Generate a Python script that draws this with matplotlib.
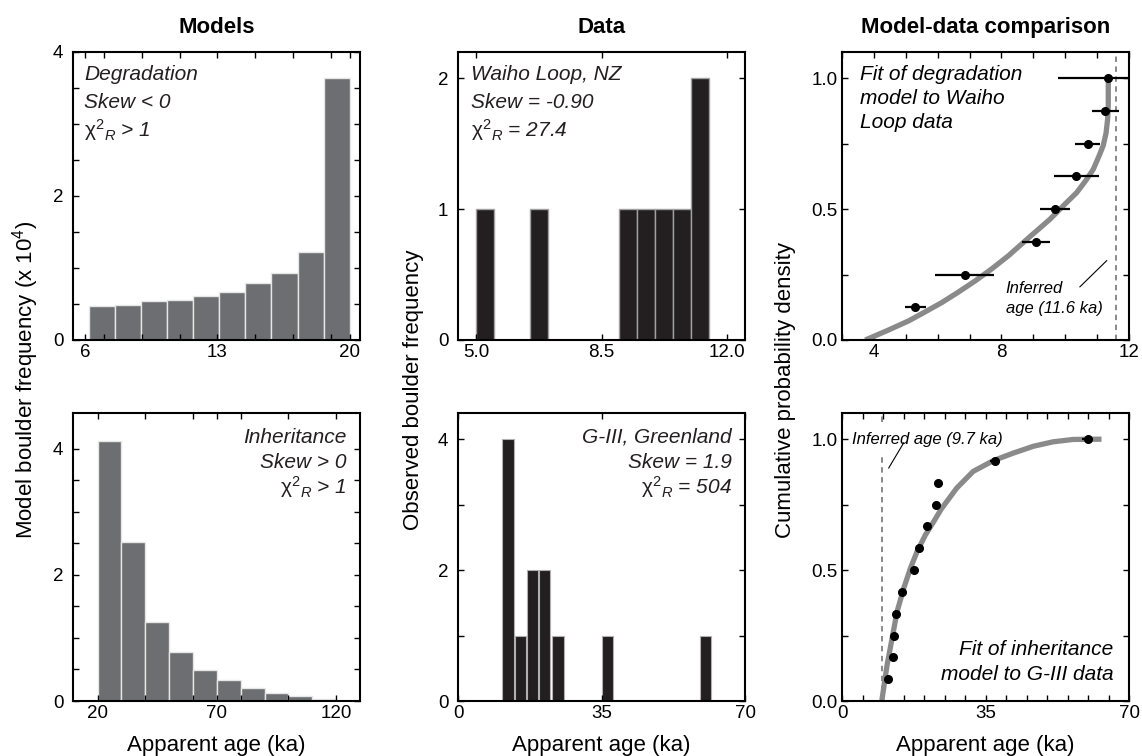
"""
Boulder age distributions: model histograms, observed histograms
and model-data CDF fits (Waiho Loop, NZ and G-III, Greenland).
"""

import numpy as np
import matplotlib
matplotlib.use("Agg")
import matplotlib.pyplot as plt

plt.rcParams["font.family"] = ["Liberation Sans", "DejaVu Sans"]
plt.rcParams["mathtext.fontset"] = "custom"
plt.rcParams["mathtext.rm"] = "Liberation Sans"
plt.rcParams["mathtext.it"] = "Liberation Sans:italic"
plt.rcParams["mathtext.bf"] = "Liberation Sans:bold"

MODEL_GREY = "#6d6e71"
DATA_BLACK = "#231f20"
CURVE_GREY = "#8a8a8a"
DASH_GREY  = "#808080"

# ── model histograms (boulder frequency x 10^4) ──────────────────────
deg_edges  = [6.2, 7.58, 8.96, 10.34, 11.72, 13.1, 14.48, 15.86, 17.24, 18.62, 20.0]
deg_counts = [0.47, 0.49, 0.54, 0.56, 0.61, 0.67, 0.79, 0.93, 1.22, 3.64]

inh_edges  = [20, 30, 40, 50, 60, 70, 80, 90, 100, 110, 120]
inh_counts = [4.13, 2.52, 1.25, 0.78, 0.49, 0.33, 0.20, 0.127, 0.074, 0.026]

# ── Waiho Loop, NZ ───────────────────────────────────────────────────
waiho_bin_left = [5.0, 6.5, 9.0, 9.5, 10.0, 10.5, 11.0]
waiho_counts   = [1, 1, 1, 1, 1, 1, 2]

waiho_age = [5.30, 6.85, 9.08, 9.67, 10.35, 10.70, 11.26, 11.35]
waiho_err = [0.34, 0.93, 0.43, 0.47, 0.70, 0.38, 0.42, 1.58]
waiho_cdf = [0.125, 0.25, 0.375, 0.5, 0.625, 0.75, 0.875, 1.0]

waiho_fit_x = [3.73, 4.4, 5.09, 5.6, 6.13, 6.65, 7.18, 7.7, 8.22, 8.85, 9.52,
               10.0, 10.36, 10.65, 10.88, 11.05, 11.19, 11.28, 11.33, 11.35, 11.35, 11.35]
waiho_fit_y = [0.0, 0.035, 0.073, 0.107, 0.143, 0.183, 0.226, 0.272, 0.322, 0.39, 0.461,
               0.52, 0.563, 0.61, 0.652, 0.70, 0.742, 0.79, 0.844, 0.895, 0.946, 0.995]
waiho_inferred = 11.6

# ── G-III, Greenland ─────────────────────────────────────────────────
g3_bin_left = [10.8, 13.9, 16.8, 19.8, 23.0, 35.0, 59.0]
g3_counts   = [4, 1, 2, 2, 1, 1, 1]

g3_age = [11.22, 12.44, 12.68, 13.17, 14.71, 17.56, 18.86, 20.81, 22.93, 23.5, 37.2, 59.9]
g3_err = [0.3, 0.3, 0.3, 0.3, 0.3, 0.3, 0.4, 0.4, 0.5, 0.8, 1.2, 1.4]
g3_cdf = [0.083, 0.167, 0.25, 0.333, 0.417, 0.5, 0.583, 0.667, 0.75, 0.833, 0.917, 1.0]

g3_fit_x = [9.7, 10.98, 12.2, 13.41, 15.04, 16.67, 18.29, 20.33, 22.36, 24.2,
            27.97, 32.0, 36.9, 41.8, 46.7, 51.5, 56.4, 63.3]
g3_fit_y = [0.0, 0.136, 0.238, 0.34, 0.43, 0.506, 0.57, 0.634, 0.685, 0.733,
            0.813, 0.877, 0.918, 0.947, 0.973, 0.99, 0.999, 1.0]
g3_inferred = 9.7

CHI = r"$\mathrm{\chi}^{2}{}_{R}$"


def style(ax, ypad):
    for s in ax.spines.values():
        s.set_linewidth(1.5)
    ax.tick_params(which="both", direction="in", top=True, right=True,
                   length=4, width=1, labelsize=13.5)
    ax.tick_params(axis="x", pad=3)
    ax.tick_params(axis="y", pad=ypad)


def stats_text(ax, lines, x, ys, ha):
    for t, y in zip(lines, ys):
        ax.text(x, y, t, transform=ax.transAxes, ha=ha, va="baseline",
                style="italic", fontsize=15, color="#231f20")


fig = plt.figure(figsize=(11.42, 7.56), dpi=100)

W, H = 287 / 1142, 288 / 756
cols = [73 / 1142, 458 / 1142, 842 / 1142]
rows = [1 - 340 / 756, 1 - 701 / 756]

ax1 = fig.add_axes([cols[0], rows[0], W, H])
ax2 = fig.add_axes([cols[1], rows[0], W, H])
ax3 = fig.add_axes([cols[2], rows[0], W, H])
ax4 = fig.add_axes([cols[0], rows[1], W, H])
ax5 = fig.add_axes([cols[1], rows[1], W, H])
ax6 = fig.add_axes([cols[2], rows[1], W, H])

# ── degradation model ────────────────────────────────────────────────
ax1.bar(deg_edges[:-1], deg_counts, width=np.diff(deg_edges), align="edge",
        color=MODEL_GREY, edgecolor="#e6e6e6", linewidth=1)
ax1.set_xlim(5.35, 20.55)
ax1.set_ylim(0, 4)
ax1.set_xticks([6, 13, 20])
ax1.set_xticks([7, 9, 11, 15, 17, 19], minor=True)
ax1.set_yticks([0, 2, 4])
ax1.set_yticks(np.arange(0.5, 4, 0.5), minor=True)
style(ax1, 7)
stats_text(ax1, ["Degradation", "Skew < 0", CHI + " > 1"], 0.038,
           [0.902, 0.804, 0.705], "left")

# ── inheritance model ────────────────────────────────────────────────
ax4.bar(inh_edges[:-1], inh_counts, width=np.diff(inh_edges), align="edge",
        color=MODEL_GREY, edgecolor="#e6e6e6", linewidth=1)
ax4.set_xlim(9.7, 130)
ax4.set_ylim(0, 4.57)
ax4.set_xticks([20, 70, 120])
ax4.set_xticks([40, 60, 80, 100], minor=True)
ax4.set_yticks([0, 2, 4])
ax4.set_yticks(np.arange(0.5, 4.5, 0.5), minor=True)
style(ax4, 7)
stats_text(ax4, ["Inheritance", "Skew > 0", CHI + " > 1"], 0.954,
           [0.897, 0.81, 0.718], "right")

# ── Waiho Loop histogram ─────────────────────────────────────────────
ax2.bar(waiho_bin_left, waiho_counts, width=0.5, align="edge",
        color=DATA_BLACK, edgecolor="#a0a0a0", linewidth=1)
ax2.set_xlim(4.5, 12.5)
ax2.set_ylim(0, 2.2)
ax2.set_xticks([5, 8.5, 12])
ax2.set_xticklabels(["5.0", "8.5", "12.0"])
ax2.set_yticks([0, 1, 2])
style(ax2, 7)
stats_text(ax2, ["Waiho Loop, NZ", "Skew = -0.90", CHI + " = 27.4"], 0.044,
           [0.902, 0.804, 0.705], "left")

# ── G-III histogram ──────────────────────────────────────────────────
ax5.bar(g3_bin_left, g3_counts, width=2.75, align="edge",
        color=DATA_BLACK, edgecolor="#b0b0b0", linewidth=0.8)
ax5.set_xlim(0, 70)
ax5.set_ylim(0, 4.4)
ax5.set_xticks([0, 35, 70])
ax5.set_yticks([0, 2, 4])
ax5.set_yticks([1, 3], minor=True)
style(ax5, 7)
stats_text(ax5, ["G-III, Greenland", "Skew = 1.9", CHI + " = 504"], 0.954,
           [0.897, 0.81, 0.718], "right")

# ── Waiho Loop fit ───────────────────────────────────────────────────
ax3.axvline(waiho_inferred, color=DASH_GREY, lw=1.3, ls=(0, (3, 2.5)))
ax3.plot(waiho_fit_x, waiho_fit_y, color=CURVE_GREY, lw=3.8,
         solid_capstyle="butt", solid_joinstyle="round")
ax3.errorbar(waiho_age, waiho_cdf, xerr=waiho_err, fmt="o", color="black",
             ms=5.5, elinewidth=1.6, capsize=0)
ax3.plot([10.46, 11.3], [0.203, 0.303], color="black", lw=0.8)
ax3.text(8.13, 0.181, "Inferred", style="italic", fontsize=12, va="baseline")
ax3.text(8.13, 0.105, "age (11.6 ka)", style="italic", fontsize=12, va="baseline")
ax3.set_xlim(3, 12)
ax3.set_ylim(0, 1.1)
ax3.set_xticks([4, 8, 12])
ax3.set_xticks(np.arange(3, 12, 1), minor=True)
ax3.set_yticks([0, 0.5, 1.0])
ax3.set_yticklabels(["0.0", "0.5", "1.0"])
ax3.set_yticks([0.25, 0.75], minor=True)
style(ax3, 3)
for t, y in zip(["Fit of degradation", "model to Waiho", "Loop data"],
                [0.903, 0.819, 0.735]):
    ax3.text(0.063, y, t, transform=ax3.transAxes, style="italic",
             fontsize=15, va="baseline")

# ── G-III fit ────────────────────────────────────────────────────────
ax6.plot([g3_inferred, g3_inferred], [0, 0.94], color=DASH_GREY, lw=1.3,
         ls=(0, (3, 2.5)))
ax6.plot([g3_inferred, g3_inferred], [1.065, 1.1], color=DASH_GREY, lw=1.3,
         ls=(0, (3, 2.5)))
ax6.plot(g3_fit_x, g3_fit_y, color=CURVE_GREY, lw=3.8,
         solid_capstyle="butt", solid_joinstyle="round")
ax6.errorbar(g3_age, g3_cdf, xerr=g3_err, fmt="o", color="black",
             ms=5.5, elinewidth=1.6, capsize=0)
ax6.plot([15.04, 11.4], [0.986, 0.89], color="black", lw=0.8)
ax6.text(2.44, 0.98, "Inferred age (9.7 ka)", style="italic", fontsize=12,
         va="baseline")
ax6.set_xlim(0, 70)
ax6.set_ylim(0, 1.1)
ax6.set_xticks([0, 35, 70])
ax6.set_xticks(np.arange(5, 70, 5), minor=True)
ax6.set_yticks([0, 0.5, 1.0])
ax6.set_yticklabels(["0.0", "0.5", "1.0"])
ax6.set_yticks([0.25, 0.75], minor=True)
style(ax6, 3)
for t, y in zip(["Fit of inheritance", "model to G-III data"], [0.16, 0.073]):
    ax6.text(0.945, y, t, transform=ax6.transAxes, style="italic",
             fontsize=15, va="baseline", ha="right")

# ── titles and shared labels ─────────────────────────────────────────
for ax, title in zip([ax1, ax2, ax3], ["Models", "Data", "Model-data comparison"]):
    pos = ax.get_position()
    fig.text(pos.x0 + pos.width / 2, 0.964, title, ha="center", va="center",
             fontsize=16, weight="bold")

for ax in [ax4, ax5, ax6]:
    pos = ax.get_position()
    fig.text(pos.x0 + pos.width / 2, 0.0066, "Apparent age (ka)", ha="center",
             va="baseline", fontsize=16)

fig.text(0.0223, 0.497, r"Model boulder frequency (x 10$^{4}$)", rotation=90,
         ha="center", va="center", fontsize=16)
fig.text(0.3625, 0.484, "Observed boulder frequency", rotation=90,
         ha="center", va="center", fontsize=16)
fig.text(0.6874, 0.484, "Cumulative probability density", rotation=90,
         ha="center", va="center", fontsize=16)

fig.savefig("out.png", dpi=100)
plt.close()
